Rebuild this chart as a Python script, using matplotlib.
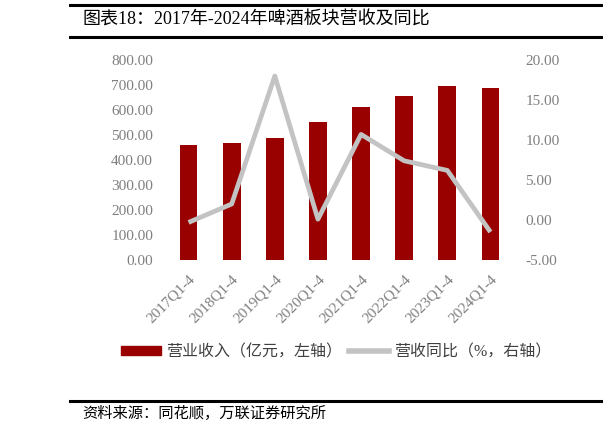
import matplotlib
matplotlib.use("Agg")
import matplotlib.pyplot as plt
from matplotlib.lines import Line2D
from matplotlib.patches import Patch

plt.rcParams['font.family'] = ['Liberation Serif', 'Noto Sans CJK SC', 'DejaVu Sans']

periods = ['2017Q1-4', '2018Q1-4', '2019Q1-4', '2020Q1-4',
           '2021Q1-4', '2022Q1-4', '2023Q1-4', '2024Q1-4']
revenue = [460, 468, 487, 553, 611, 655, 696, 687]        # 亿元
yoy = [-0.3, 2.0, 18.0, 0.1, 10.7, 7.4, 6.2, -1.5]         # %

left_ticks = [0, 100, 200, 300, 400, 500, 600, 700, 800]
right_ticks = [-5, 0, 5, 10, 15, 20]

bar_color = '#990000'
line_color = '#c3c3c3'
tick_color = '#7f7f7f'

fig = plt.figure(figsize=(6.03, 4.34), dpi=100)
W, H = 603, 434
ax = fig.add_axes([167 / W, 1 - 260 / H, (512 - 167) / W, 200 / H])
ax2 = ax.twinx()

x = list(range(len(periods)))
ax.bar(x, revenue, width=0.41, color=bar_color, zorder=2)
ax2.plot(x, yoy, color=line_color, linewidth=3.4, solid_capstyle='butt', zorder=3)

ax.set_xlim(-0.5, len(periods) - 0.5)
ax.set_ylim(0, 800)
ax2.set_ylim(-5, 20)
ax.set_yticks(left_ticks)
ax.set_yticklabels([f'{v:.2f}' for v in left_ticks])
ax2.set_yticks(right_ticks)
ax2.set_yticklabels([f'{v:.2f}' for v in right_ticks])
ax.set_xticks(x)
ax.set_xticklabels(periods, rotation=45, ha='right', rotation_mode='anchor')

for a in (ax, ax2):
    for s in a.spines.values():
        s.set_visible(False)
    a.tick_params(length=0, labelsize=11, colors=tick_color)
ax.tick_params(axis='y', pad=10)
ax2.tick_params(axis='y', pad=9.5)
ax.tick_params(axis='x', pad=9)

handles = [Patch(color=bar_color), Line2D([0], [0], color=line_color, linewidth=4)]
labels = ['营业收入（亿元，左轴）', '营收同比（%，右轴）']
fig.legend(handles, labels, loc='center', bbox_to_anchor=(336 / W, 1 - 352 / H),
           ncol=2, frameon=False, fontsize=11.5, labelcolor='#404040',
           handlelength=2.5, handleheight=0.5, columnspacing=0.4, handletextpad=0.35)

# header and footer rules
fig.add_artist(Line2D([70 / W, 1], [1 - 5 / H] * 2, color='black', linewidth=2.2))
fig.add_artist(Line2D([70 / W, 1], [1 - 37 / H] * 2, color='black', linewidth=2.2))
fig.add_artist(Line2D([70 / W, 1], [1 - 401 / H] * 2, color='black', linewidth=2.2))

fig.text(82 / W, 1 - 20 / H, '图表18：2017年-2024年啤酒板块营收及同比',
         fontsize=13, va='center', ha='left', color='black')
fig.text(82 / W, 1 - 413 / H, '资料来源：同花顺，万联证券研究所',
         fontsize=11, va='center', ha='left', color='black', style='italic')

fig.savefig('out.png', dpi=100)
